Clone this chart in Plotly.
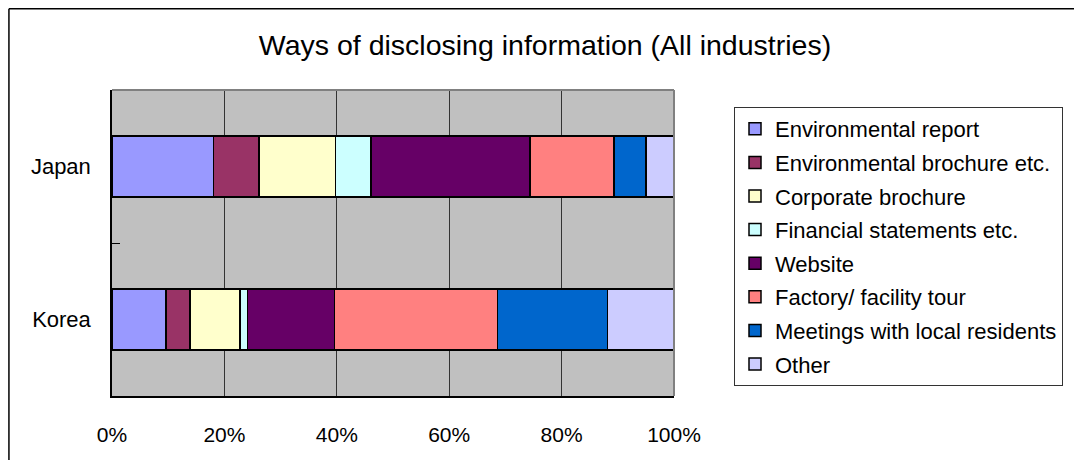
import plotly.graph_objects as go

countries = ["Japan", "Korea"]
series_names = [
    "Environmental report",
    "Environmental brochure etc.",
    "Corporate brochure",
    "Financial statements etc.",
    "Website",
    "Factory/ facility tour",
    "Meetings with local residents",
    "Other",
]
japan_values = [18.1, 8.1, 13.6, 6.3, 28.3, 14.9, 5.7, 5.0]
korea_values = [9.6, 4.3, 8.9, 1.3, 15.5, 29.0, 19.6, 11.8]
series_colors = ["#9999FF", "#993366", "#FFFFCC", "#CCFFFF",
                 "#660066", "#FF8080", "#0066CC", "#CCCCFF"]
x_ticks = [0, 20, 40, 60, 80, 100]
x_tick_labels = ["0%", "20%", "40%", "60%", "80%", "100%"]

# page offset of the figure div (browser body margin)
OFF = 8
W, H = 1082 - 2 * OFF, 468 - 2 * OFF
# plot area in page pixels
PL, PR, PT, PB = 112, 675, 90, 396
L, R, T, B = PL - OFF, W - (PR - OFF), PT - OFF, H - (PB - OFF)
pw, ph = W - L - R, H - T - B

def px_x(x):
    return (x - OFF - L) / pw

def px_y(y):
    return (H - B - (y - OFF)) / ph

fig = go.Figure()
for i, name in enumerate(series_names):
    fig.add_trace(go.Bar(
        y=countries,
        x=[japan_values[i], korea_values[i]],
        name=name,
        orientation="h",
        legendgroup=name,
        marker=dict(color=series_colors[i], line=dict(color="black", width=1.5)),
    ))

FONT = "Liberation Sans, Arial, sans-serif"
fig.update_layout(
    width=W, height=H,
    margin=dict(l=L, r=R, t=T, b=B, pad=0),
    barmode="stack",
    bargap=0.6,
    paper_bgcolor="white",
    plot_bgcolor="#C0C0C0",
    font=dict(family=FONT, size=21, color="black"),
    title=dict(text="Ways of disclosing information (All industries)",
               x=(545 - OFF) / W, xanchor="center", xref="container",
               y=1 - (45 - OFF) / H, yanchor="middle",
               font=dict(size=28.5, family=FONT)),
    legend=dict(
        x=px_x(734), y=px_y(107), xanchor="left", yanchor="top",
        bgcolor="white", bordercolor="#333333", borderwidth=1,
        traceorder="grouped", tracegroupgap=2,
        font=dict(size=22, family=FONT),
        entrywidth=325,
    ),
    xaxis=dict(
        range=[0, 100], tickvals=x_ticks, ticktext=x_tick_labels,
        showgrid=True, gridcolor="#333333", gridwidth=1,
        zeroline=False, showline=True, linecolor="black", linewidth=1.5,
        ticks="", ticklabelstandoff=19, fixedrange=True,
        tickfont=dict(size=21),
    ),
    yaxis=dict(
        autorange="reversed", showgrid=False, showline=True,
        linecolor="black", linewidth=1.5,
        ticks="inside", tickson="boundaries", ticklen=8, tickcolor="black",
        ticklabelstandoff=15, tickfont=dict(size=22),
    ),
    shapes=[
        dict(type="line", xref="paper", yref="paper", x0=0, x1=1, y0=1, y1=1,
             line=dict(color="#808080", width=2)),
        dict(type="line", xref="paper", yref="paper", x0=1, x1=1, y0=0, y1=1,
             line=dict(color="#808080", width=2)),
        # outer chart frame: top and left edges (right/bottom lie off-canvas)
        dict(type="line", xref="paper", yref="paper",
             x0=px_x(8.75), x1=px_x(1100), y0=px_y(8.75), y1=px_y(8.75),
             line=dict(color="black", width=1.5), layer="below"),
        dict(type="line", xref="paper", yref="paper",
             x0=px_x(8.75), x1=px_x(8.75), y0=px_y(8.75), y1=px_y(490),
             line=dict(color="black", width=1.5), layer="below"),
    ],
)

fig.write_html("out.html")
